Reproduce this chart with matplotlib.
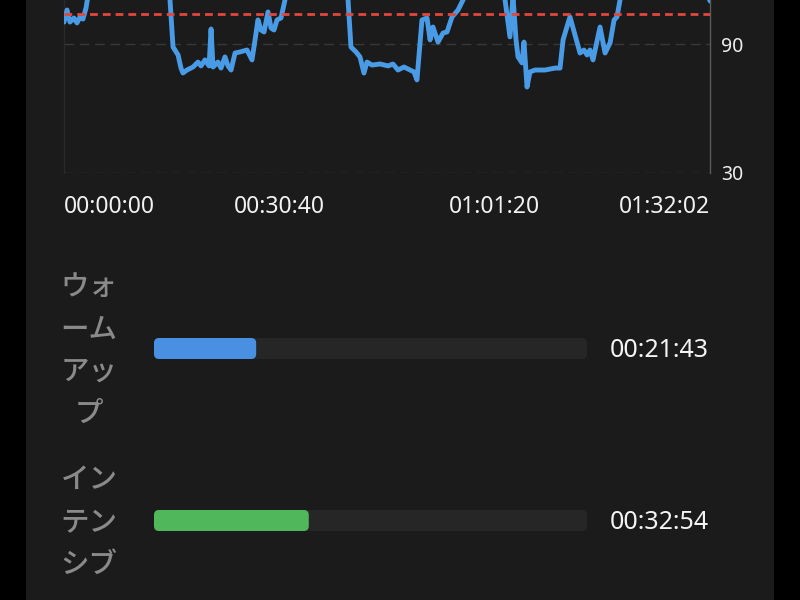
import matplotlib
matplotlib.use("Agg")
import matplotlib.pyplot as plt
from matplotlib.patches import Rectangle, FancyBboxPatch
import matplotlib.transforms as mtransforms

# ---------------- data ----------------
elapsed_s = [0, 26, 51, 85, 111, 137, 162, 188, 222, 265, 393, 564, 735, 863,
             906, 932, 975, 1000, 1017, 1051, 1103, 1145, 1171, 1205, 1240, 1257,
             1274, 1316, 1342, 1376, 1402, 1428, 1462, 1504, 1564, 1607, 1633,
             1658, 1684, 1710, 1744, 1770, 1795, 1821, 1855, 1889, 1932, 2103,
             2274, 2402, 2428, 2453, 2496, 2530, 2564, 2590, 2633, 2701, 2770,
             2812, 2855, 2906, 2958, 2992, 3017, 3060, 3103, 3129, 3154, 3197,
             3240, 3274, 3317, 3368, 3411, 3471, 3641, 3753, 3770, 3812, 3838,
             3864, 3881, 3915, 3932, 3958, 3983, 4026, 4112, 4197, 4240, 4266,
             4291, 4325, 4368, 4411, 4445, 4471, 4496, 4522, 4582, 4625, 4668,
             4702, 4727, 4753, 4838, 5095, 5351, 5488, 5522]
heart_rate = [100.2, 105.8, 100.2, 102.1, 99.8, 102.6, 101.6, 106.7, 118, 128,
              135, 140, 138, 130,
              110.5, 88.6, 84.9, 78.8, 76.5, 77.9, 79.3, 81.6, 79.8, 82.6, 79.8, 97,
              79.3, 81.6, 78.8, 84, 79.8, 77.9, 85.8, 86.3, 87.2, 82.6, 91.9,
              101.2, 96.5, 95.6, 104.9, 97.4, 96.5, 101.2, 102.1, 110.5, 125, 140,
              145, 135, 110.5, 88.6, 86.3, 84, 76.5, 81.6, 80.2, 80.7, 79.8,
              80.7, 77.9, 79.3, 77.9, 77, 73.3, 101.2, 102.1, 91.9, 97.9, 90.9,
              95.1, 95.6, 102.6, 105.8, 110.5, 130, 142, 125, 110.5, 93.3, 112,
              91.9, 84, 81.2, 90.9, 70, 77, 77.9, 77.9, 78.8, 78.8, 91.9,
              96.5, 102.6, 94.2, 85.8, 87.2, 84.9, 87.2, 82.6, 97.9, 85.8, 90.5,
              101.2, 102.6, 110.5, 130, 145, 130, 115, 110]
total_s = 5522
threshold_bpm = 104
y_ticks = [30, 90]
x_tick_s = [0, 1840, 3680, 5522]
x_tick_labels = ["00:00:00", "00:30:40", "01:01:20", "01:32:02"]

zone_names = ["ウォームアップ", "インテンシブ"]
zone_seconds = [1303, 1974]
zone_labels = ["00:21:43", "00:32:54"]
zone_colors = ["#4a90e2", "#50b75b"]

# ---------------- style ----------------
PANEL = "#1b1b1b"
TRACK = "#262626"
LINE = "#4a9be6"
RED = "#e2463d"
W, H = 800, 600

fig = plt.figure(figsize=(8, 6), dpi=100, facecolor="black")
fig.add_artist(Rectangle((26 / W, 0), 748 / W, 1, transform=fig.transFigure,
                         facecolor=PANEL, edgecolor="none", zorder=0))

# ---------------- heart-rate chart ----------------
ax = fig.add_axes([64 / W, 1 - 173 / H, 646 / W, 258 / H])
ax.set_facecolor(PANEL)
ax.set_xlim(0, total_s)
ax.set_ylim(30, 150)
ax.plot(elapsed_s, heart_rate, color=LINE, lw=3.5, solid_joinstyle="round",
        solid_capstyle="round", zorder=3)
ax.axhline(threshold_bpm, color=RED, lw=2.0, linestyle=(0, (2.8, 1.8)), zorder=4)
for v in y_ticks:
    ax.axhline(v, color="#383838", lw=1.0, linestyle=(0, (7, 4)), zorder=1)

for s in ["top", "bottom"]:
    ax.spines[s].set_visible(False)
ax.spines["left"].set_color("#2a2a2a")
ax.spines["left"].set_linewidth(1.0)
ax.spines["right"].set_color("#5a5a5a")
ax.spines["right"].set_linewidth(1.0)

ax.yaxis.tick_right()
ax.set_yticks(y_ticks)
ax.set_yticklabels([str(v) for v in y_ticks])
ax.tick_params(axis="y", length=0, pad=8, labelsize=14, labelcolor="#eeeeee")
ax.set_xticks(x_tick_s)
ax.set_xticklabels(x_tick_labels)
ax.tick_params(axis="x", length=0, pad=16, labelsize=16.5, labelcolor="#f2f2f2")
for lbl in ax.get_yticklabels() + ax.get_xticklabels():
    lbl.set_family(["Noto Sans", "DejaVu Sans"])
xl = ax.get_xticklabels()
xl[0].set_horizontalalignment("left")
xl[-1].set_horizontalalignment("right")

# ---------------- zone bars ----------------
ax2 = fig.add_axes([154 / W, 1 - 554.9 / H, 433 / W, 292.4 / H])
ax2.set_xlim(0, total_s)
ax2.set_ylim(1.2, -0.5)
ax2.axis("off")
ypos = list(range(len(zone_names)))
bar_h = 21 / 172
tracks = ax2.barh(ypos, [total_s] * len(ypos), height=bar_h, color=TRACK)
fills = ax2.barh(ypos, zone_seconds, height=bar_h, color=zone_colors)


def round_bars(a, bars, r_px):
    p0 = a.transData.transform((0, 0))
    p1 = a.transData.transform((1, 1))
    sx = abs(p1[0] - p0[0])
    sy = abs(p1[1] - p0[1])
    for b in bars:
        fb = FancyBboxPatch((b.get_x(), b.get_y()), b.get_width(), b.get_height(),
                            boxstyle=f"round,pad=0,rounding_size={r_px / sx}",
                            mutation_aspect=sx / sy,
                            facecolor=b.get_facecolor(), edgecolor="none",
                            zorder=b.get_zorder())
        b.set_visible(False)
        a.add_patch(fb)


round_bars(ax2, tracks, 5)
round_bars(ax2, fills, 5)

blend = mtransforms.blended_transform_factory(ax2.transAxes, ax2.transData)
for i, (name, lab) in enumerate(zip(zone_names, zone_labels)):
    wrapped = "\n".join(name[k:k + 2] for k in range(0, len(name), 2))
    ax2.text(-0.150, i + 0.01, wrapped, transform=blend, ha="center", va="center",
             multialignment="center", fontsize=20.5, color="#8a8a8a",
             fontweight="medium",
             family=["Noto Sans CJK JP", "DejaVu Sans"], linespacing=1.58)
    ax2.text(1.053, i + 0.012, lab, transform=blend, ha="left", va="center",
             fontsize=18, color="#f4f4f4", family=["Noto Sans", "DejaVu Sans"])

fig.savefig("out.png", dpi=100, facecolor=fig.get_facecolor())
